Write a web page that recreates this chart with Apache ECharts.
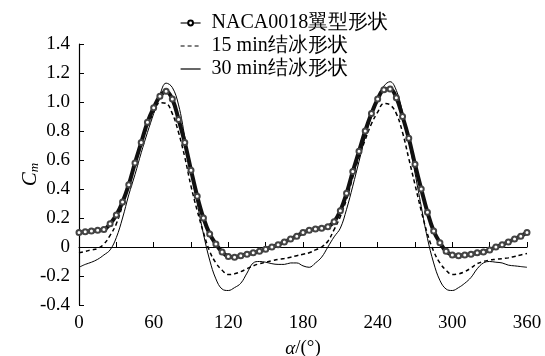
<!DOCTYPE html>
<html><head><meta charset="utf-8">
<script src="https://cdn.jsdelivr.net/npm/echarts@6/dist/echarts.min.js"></script>
<style>html,body{margin:0;padding:0;background:#fff}#c{width:545px;height:356px}</style>
</head><body><div id="c"></div>
<script>
const angles = [];
for (let a = 0; a <= 360; a += 5) angles.push(a);
const nacaVals = [0.10,0.105,0.11,0.115,0.12,0.16,0.22,0.31,0.43,0.58,0.72,0.86,0.96,1.04,1.075,1.02,0.88,0.72,0.53,0.35,0.20,0.09,0.02,-0.035,-0.065,-0.07,-0.06,-0.05,-0.04,-0.03,-0.015,0.0,0.015,0.035,0.055,0.075,0.10,0.115,0.125,0.13,0.14,0.175,0.25,0.37,0.52,0.66,0.80,0.92,1.02,1.085,1.09,1.03,0.90,0.75,0.57,0.40,0.24,0.11,0.03,-0.03,-0.055,-0.06,-0.055,-0.05,-0.04,-0.035,-0.02,0.0,0.015,0.035,0.055,0.075,0.10];
const ice15Vals = [-0.04,-0.03,-0.02,-0.01,0.02,0.08,0.16,0.29,0.44,0.59,0.72,0.83,0.93,0.995,0.99,0.92,0.79,0.62,0.42,0.25,0.10,-0.03,-0.11,-0.16,-0.19,-0.185,-0.17,-0.15,-0.13,-0.115,-0.105,-0.095,-0.085,-0.08,-0.07,-0.06,-0.05,-0.04,-0.02,0.0,0.04,0.12,0.21,0.33,0.48,0.62,0.74,0.85,0.93,0.99,0.98,0.92,0.79,0.61,0.43,0.25,0.09,-0.03,-0.11,-0.16,-0.19,-0.185,-0.17,-0.145,-0.115,-0.10,-0.09,-0.085,-0.08,-0.075,-0.065,-0.055,-0.045];
const ice30Vals = [-0.14,-0.12,-0.105,-0.085,-0.055,-0.02,0.065,0.20,0.36,0.50,0.65,0.79,0.92,1.05,1.13,1.10,0.98,0.76,0.52,0.30,0.09,-0.09,-0.22,-0.29,-0.30,-0.28,-0.25,-0.18,-0.11,-0.10,-0.105,-0.115,-0.12,-0.12,-0.11,-0.11,-0.13,-0.14,-0.11,-0.07,0.0,0.07,0.13,0.26,0.42,0.59,0.76,0.90,1.03,1.11,1.14,1.08,0.93,0.73,0.51,0.28,0.06,-0.11,-0.23,-0.29,-0.30,-0.28,-0.25,-0.21,-0.15,-0.11,-0.10,-0.105,-0.11,-0.125,-0.13,-0.135,-0.14];
const yTickLabels = {'1.4':'1.4','1.2':'1.2','1':'1.0','0.8':'0.8','0.6':'0.6','0.4':'0.4','0.2':'0.2','0':'0','-0.2':'-0.2','-0.4':'-0.4'};
const seriesNames = ['NACA0018翼型形状','15 min结冰形状','30 min结冰形状'];

const font = '"Liberation Serif","Times New Roman",serif';
const pair = v => angles.map((a,i)=>[a, v[i]]);
const chart = echarts.init(document.getElementById('c'), null, {renderer:'canvas'});
chart.setOption({
  animation:false,
  backgroundColor:'#fff',
  grid:{left:79, right:18, top:44, bottom:51, containLabel:false, outerBoundsMode:'none'},
  legend:{
    left:180, top:13, orient:'vertical', itemGap:3, itemWidth:20, itemHeight:6, padding:0,
    lineStyle:{width:1.2},
    textStyle:{fontFamily:font, fontSize:20, color:'#000', padding:[0,0,0,6]},
    data:[
      {name:seriesNames[0], itemStyle:{color:'#000', borderColor:'#000', borderWidth:1}},
      {name:seriesNames[1], itemStyle:{opacity:0}},
      {name:seriesNames[2], itemStyle:{opacity:0}}
    ]
  },
  xAxis:{
    type:'value', min:0, max:360, interval:30,
    axisLine:{lineStyle:{color:'#000', width:1.2}},
    axisTick:{inside:true, length:5, lineStyle:{color:'#000'}},
    splitLine:{show:false},
    axisLabel:{fontFamily:font, fontSize:19, color:'#000', margin:9,
      formatter: v => (v % 60 === 0 ? String(v) : '')},
    name:'{a|α}/(°)', nameLocation:'middle', nameGap:34, nameMoveOverlap:false,
    nameTextStyle:{fontFamily:font, fontSize:19, color:'#000',
      rich:{a:{fontFamily:font, fontSize:19, fontStyle:'italic', color:'#000'}}}
  },
  yAxis:{
    type:'value', min:-0.4, max:1.4, interval:0.2,
    axisLine:{show:true, lineStyle:{color:'#000', width:1.2}},
    axisTick:{show:true, inside:true, length:5, lineStyle:{color:'#000'}},
    splitLine:{show:false},
    axisLabel:{fontFamily:font, fontSize:19, color:'#000', margin:9,
      formatter: v => { const k = String(Math.round(v*10)/10); return yTickLabels[k] ?? k; }},
    name:'{c|C}{m|m}', nameLocation:'middle', nameGap:38, nameRotate:90, nameMoveOverlap:false,
    nameTextStyle:{rich:{
      c:{fontFamily:font, fontSize:21, fontStyle:'italic', color:'#000'},
      m:{fontFamily:font, fontSize:13, fontStyle:'italic', color:'#000', verticalAlign:'bottom', padding:[9,0,0,0]}
    }}
  },
  series:[
    {name:seriesNames[0], type:'line', smooth:0.4, data:pair(nacaVals),
      symbol:'emptyCircle', symbolSize:5, showSymbol:true,
      itemStyle:{color:'#444', borderColor:'#333', borderWidth:1.2},
      lineStyle:{color:'#111', width:4}, z:3},
    {name:seriesNames[1], type:'line', smooth:0.4, data:pair(ice15Vals),
      symbol:'none', itemStyle:{color:'#000'},
      lineStyle:{color:'#000', width:1.5, type:[4,3]}, z:2},
    {name:seriesNames[2], type:'line', smooth:0.4, data:pair(ice30Vals),
      symbol:'none', itemStyle:{color:'#000'},
      lineStyle:{color:'#000', width:1}, z:1}
  ]
});
</script></body></html>
